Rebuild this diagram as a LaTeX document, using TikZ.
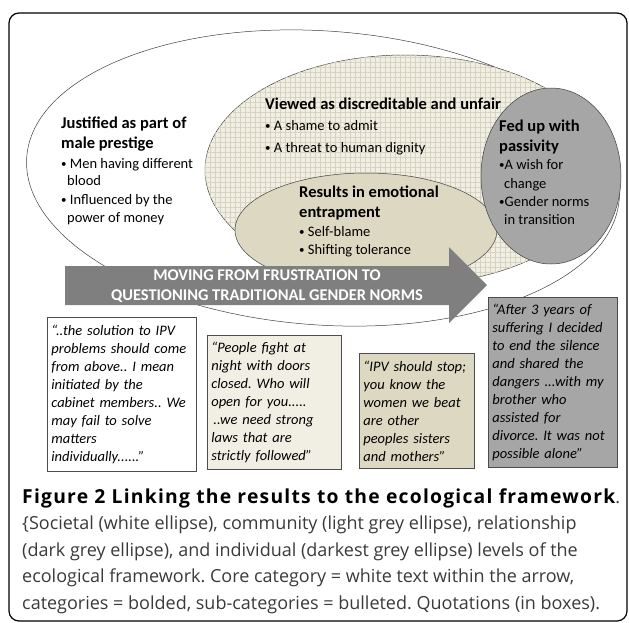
\documentclass[tikz,border=0pt]{standalone}
\usepackage{fontspec}
\setmainfont{Carlito}
\newfontfamily\captionfont{Open Sans}
\newfontfamily\figlabelfont{Open Sans}[LetterSpace=6.4]
\usepackage{tikz}
\usetikzlibrary{shapes.geometric, patterns.meta}
\frenchspacing

\definecolor{commfill}{HTML}{F1EFE3}
\definecolor{commgrid}{HTML}{D6D2C0}
\definecolor{relfill}{HTML}{DDD8C2}
\definecolor{indfill}{HTML}{A6A6A6}
\definecolor{arrowgrey}{HTML}{7F7F7F}
\definecolor{captiongrey}{HTML}{3A3A3A}

\newcommand\cathead[1]{{\fontsize{16.5}{18}\selectfont\bfseries #1}}
\newcommand\catbullet{\raisebox{0.6pt}{\fontsize{11}{12}\selectfont\textbullet}}

\tikzset{
  level/.style={ellipse, draw=black!75, line width=0.5pt, inner sep=0pt},
  cat/.style={anchor=base west, align=left, inner sep=0pt, font=\fontsize{14.5}{18}\selectfont},
  quote/.style={draw=black!70, line width=0.7pt, anchor=north west, align=left,
    inner xsep=4pt, inner ysep=0pt, font=\fontsize{14.5}{18}\selectfont\itshape},
}

\begin{document}
\begin{tikzpicture}[x=1pt, y=-1pt]
    \useasboundingbox (0,0) rectangle (629,622);
    \draw[line width=1.2pt, rounded corners=10pt] (9,13) rectangle (627,621);

    % Levels
    \node[level, fill=white, rotate=-4, minimum width=594pt, minimum height=294pt] (societal) at (323,178) {};
    \node[level, fill=commfill, postaction={pattern={Hatch[distance=5pt, angle=0, line width=0.4pt]}, pattern color=commgrid},
      minimum width=400pt, minimum height=230pt] (community) at (405,170) {};
    \node[level, fill=relfill, minimum width=262pt, minimum height=114pt] (relationship) at (366,230) {};
    \node[level, fill=indfill, minimum width=140pt, minimum height=176pt] (individual) at (551,176) {};

    % Categories (anchored at the last line)
    \node[cat] (justified) at (61,222) {\cathead{Justified as part of}\\[2pt] \cathead{male prestige}\\[2pt]
      \catbullet\ Men having different\\[-1pt] \hspace*{6pt}blood\\[1pt] \catbullet\ Influenced by the\\ \hspace*{6pt}power of money};
    \node[cat] (viewed) at (265,152) {\cathead{Viewed as discreditable and unfair}\\[3pt]
      \catbullet\ A shame to admit\\[4pt] \catbullet\ A threat to human dignity};
    \node[cat] (entrap) at (299,254) {\cathead{Results in emotional}\\[2pt] \cathead{entrapment}\\[1pt]
      \catbullet\ Self-blame\\ \catbullet\ Shifting tolerance};
    \node[cat] (fedup) at (499,224) {\cathead{Fed up with}\\[2pt] \cathead{passivity}\\
      \catbullet A wish for\\[1pt] \hspace*{5pt}change\\ \catbullet Gender norms\\ \hspace*{5pt}in transition};

    % Core category
    \fill[arrowgrey] (65,266) -- (449,266) -- (449,247) -- (487,285) -- (449,323) -- (449,305) -- (65,305) -- cycle;
    \node[align=center, text=white, font=\fontsize{16.4}{20}\selectfont\bfseries] (core) at (267,286)
      {MOVING FROM FRUSTRATION TO\\QUESTIONING TRADITIONAL GENDER NORMS};

    % Quotations
    \node[quote, fill=white, text width=141pt, minimum height=154pt] (quoteA) at (47,317)
      {“..the solution to IPV\\ problems should come\\ from above.. I mean\\ initiated by the\\
       cabinet members.. We\\ may fail to solve\\ matters\\ individually......”};
    \node[quote, fill=commfill, text width=126pt, minimum height=134pt] (quoteB) at (207,335)
      {“People fight at\\ night with doors\\ closed. Who will\\ open for you.....\\
       \hspace*{2pt}..we need strong\\ laws that are\\ strictly followed”};
    \node[quote, fill=relfill, text width=107pt, minimum height=115pt] (quoteC) at (359,353)
      {“IPV should stop;\\ you know the\\ women we beat\\ are other\\ peoples sisters\\ and mothers”};
    \node[quote, fill=indfill, text width=121pt, minimum height=170pt] (quoteD) at (488,297)
      {“After 3 years of\\ suffering I decided\\ to end the silence\\ and shared the\\
       dangers ...with my\\ brother who\\ assisted for\\ divorce. It was not\\ possible alone”};

    % Caption (anchored at the last line)
    \node[anchor=base west, align=left, inner sep=0pt, text=captiongrey,
      font=\captionfont\fontsize{18}{26.5}\selectfont] (caption) at (22,609)
      {{\color{black}\figlabelfont\bfseries\fontsize{19.3}{26.5}\selectfont Figure 2 Linking the results to the ecological framework}.\\
       \{Societal (white ellipse), community (light grey ellipse), relationship\\
       (dark grey ellipse), and individual (darkest grey ellipse) levels of the\\
       ecological framework. Core category = white text within the arrow,\\
       categories = bolded, sub-categories = bulleted. Quotations (in boxes).};
\end{tikzpicture}
\end{document}
